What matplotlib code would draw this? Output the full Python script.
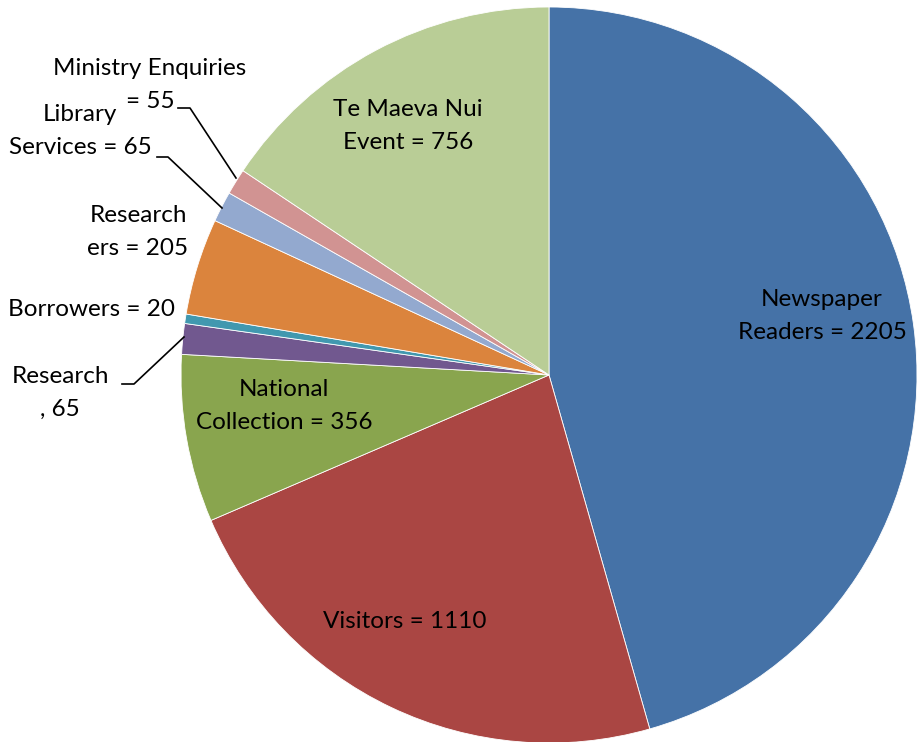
import matplotlib
matplotlib.use("Agg")
import matplotlib.pyplot as plt

categories = ["Newspaper Readers", "Visitors", "National Collection", "Research",
              "Borrowers", "Researchers", "Library Services", "Ministry Enquiries",
              "Te Maeva Nui Event"]
values = [2205, 1110, 356, 65, 20, 205, 65, 55, 756]
label_texts = ["Newspaper\nReaders = 2205", "Visitors = 1110", "National\nCollection = 356",
               "Research\n, 65", "Borrowers = 20", "Research\ners = 205",
               "Library\nServices = 65", "Ministry Enquiries\n= 55", "Te Maeva Nui\nEvent = 756"]
colors = ["#4572A7", "#AA4643", "#89A54E", "#71588F", "#4198AF", "#DB843D",
          "#93A9CF", "#D19392", "#B9CD96"]

W, H = 917, 742
fig = plt.figure(figsize=(W / 100, H / 100), dpi=100)
ax = fig.add_axes([0, 0, 1, 1])

cx, cy, r = 549, H - 375, 368
ax.pie(values, colors=colors, startangle=90, counterclock=False,
       center=(cx, cy), radius=r, frame=True,
       wedgeprops=dict(edgecolor="white", linewidth=0.6))
ax.set_xlim(0, W)
ax.set_ylim(0, H)
ax.set_aspect("equal")
ax.axis("off")

font = dict(family=["Lato", "DejaVu Sans"], fontsize=17.5, color="black",
            ha="center", va="center")
line_gap = 33  # pixels between lines

# label positions in pixel coordinates (x, y from top), centre of block
label_pos = [(822, 316), (405, 621), (284, 406), (60, 393), (92, 309),
             (138, 232), (80, 131), (150, 85), (408, 126)]
for txt, (x, y) in zip(label_texts, label_pos):
    lines = txt.split("\n")
    n = len(lines)
    for i, line in enumerate(lines):
        ly = y + (i - (n - 1) / 2) * line_gap
        ax.text(x, H - ly, line, **font)

# leader lines
leaders = [
    [(122, 384), (134, 384), (184, 337)],
    [(157, 157), (168, 157), (222, 208)],
    [(178, 108), (190, 108), (236, 178)],
]
for pts in leaders:
    xs = [p[0] for p in pts]
    ys = [H - p[1] for p in pts]
    ax.plot(xs, ys, color="black", linewidth=1.2)

fig.savefig("out.png", dpi=100, facecolor="white")
